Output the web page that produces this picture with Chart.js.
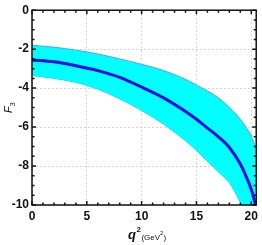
<!DOCTYPE html>
<html>
<head>
<meta charset="utf-8">
<script src="https://cdn.jsdelivr.net/npm/chart.js@4/dist/chart.umd.min.js"></script>
<style>
  html, body { margin: 0; padding: 0; background: #fff; }
  #f3Chart { display: block; }
</style>
</head>
<body>
<canvas id="f3Chart" width="262" height="245"></canvas>
<script>
// q^2 sample points (GeV^2) and F3 values
const q2Points = [0, 2, 4, 6, 8, 10, 12, 14, 15, 16, 17, 18, 19, 19.5, 20, 20.4];
const upperF3 = [-1.8, -1.9, -2.05, -2.25, -2.5, -2.78, -3.1, -3.55, -3.85, -4.15, -4.5, -5.0, -5.6, -6.0, -6.45, -7.05];
const lowerF3 = [-3.35, -3.5, -3.7, -4.05, -4.55, -5.15, -5.85, -6.7, -7.2, -7.75, -8.3, -8.85, -9.85, -10.4, -11.0, -11.5];
const centralF3 = [-2.55, -2.65, -2.85, -3.1, -3.45, -3.95, -4.5, -5.2, -5.6, -6.05, -6.5, -7.05, -7.9, -8.5, -9.2, -10.0];

const xTicks = [0, 5, 10, 15, 20];
const yTicks = [0, -2, -4, -6, -8, -10];

const X_MAX = 20.45;

function toPoints(values) {
    return q2Points.map((q, i) => ({ x: q, y: values[i] }));
}

// frame with inward ticks on all four sides (Mathematica style)
const frameTicks = {
    id: 'frameTicks',
    afterDatasetsDraw(chart) {
        const { ctx, chartArea: a, scales } = chart;
        ctx.save();
        ctx.strokeStyle = '#111';
        ctx.lineWidth = 1.5;
        ctx.strokeRect(a.left, a.top, a.right - a.left, a.bottom - a.top);
        ctx.beginPath();
        for (let v = 0; v <= X_MAX; v += 1) {
            const px = scales.x.getPixelForValue(v);
            const len = v % 5 === 0 ? 4 : 2.5;
            ctx.moveTo(px, a.bottom); ctx.lineTo(px, a.bottom - len);
            ctx.moveTo(px, a.top); ctx.lineTo(px, a.top + len);
        }
        for (let v = 0; v >= -10; v -= 0.5) {
            const py = scales.y.getPixelForValue(v);
            const len = v % 2 === 0 ? 4 : 2.5;
            ctx.moveTo(a.left, py); ctx.lineTo(a.left + len, py);
            ctx.moveTo(a.right, py); ctx.lineTo(a.right - len, py);
        }
        ctx.stroke();
        ctx.restore();
    }
};

// axis titles with super/subscripts
const axisTitles = {
    id: 'axisTitles',
    afterDraw(chart) {
        const { ctx } = chart;
        ctx.save();
        ctx.fillStyle = '#111';
        ctx.textBaseline = 'alphabetic';
        ctx.textAlign = 'left';
        // x title: q^2 (GeV^2)
        let x = 128, base = 239;
        ctx.font = "bold italic 13px 'Liberation Sans', Arial, sans-serif";
        ctx.fillText('q', x, base);
        x += ctx.measureText('q').width + 0.5;
        ctx.font = "bold 8px 'Liberation Sans', Arial, sans-serif";
        ctx.fillText('2', x, base - 7);
        x += ctx.measureText('2').width + 0.5;
        ctx.font = "8px 'Liberation Sans Narrow', 'Liberation Sans', Arial, sans-serif";
        ctx.fillText('(GeV', x, base + 1);
        x += ctx.measureText('(GeV').width;
        ctx.font = "6px 'Liberation Sans', Arial, sans-serif";
        ctx.fillText('2', x, base - 4);
        x += ctx.measureText('2').width;
        ctx.font = "8px 'Liberation Sans Narrow', 'Liberation Sans', Arial, sans-serif";
        ctx.fillText(')', x, base + 1);
        // y title: F_3
        ctx.translate(12, 113);
        ctx.rotate(-Math.PI / 2);
        ctx.font = "italic 11px 'Liberation Sans', Arial, sans-serif";
        ctx.fillText('F', 0, 0);
        const w = ctx.measureText('F').width;
        ctx.font = "7px 'Liberation Sans', Arial, sans-serif";
        ctx.fillText('3', w, 2.5);
        ctx.restore();
    }
};

new Chart(document.getElementById('f3Chart'), {
    type: 'line',
    data: {
        datasets: [
            {
                label: 'upper',
                data: toPoints(upperF3),
                borderColor: '#3aa8ff',
                borderWidth: 1,
                backgroundColor: '#00ffff',
                fill: '+1',
                pointRadius: 0,
                order: 2,
                cubicInterpolationMode: 'monotone'
            },
            {
                label: 'lower',
                data: toPoints(lowerF3),
                borderColor: '#3aa8ff',
                borderWidth: 1,
                fill: false,
                pointRadius: 0,
                order: 2,
                cubicInterpolationMode: 'monotone'
            },
            {
                label: 'central',
                data: toPoints(centralF3),
                borderColor: '#0a0ae6',
                borderWidth: 3,
                fill: false,
                pointRadius: 0,
                order: 0,
                cubicInterpolationMode: 'monotone'
            }
        ]
    },
    options: {
        responsive: false,
        animation: false,
        devicePixelRatio: 1,
        layout: { padding: { top: 5, right: 2, left: 0, bottom: 0 } },
        plugins: { legend: { display: false }, tooltip: { enabled: false } },
        scales: {
            x: {
                type: 'linear',
                min: 0,
                max: X_MAX,
                afterBuildTicks: (scale) => { scale.ticks = xTicks.map(v => ({ value: v })); },
                afterFit: (scale) => { scale.height = 40; },
                ticks: {
                    padding: 4,
                    color: '#111',
                    font: { family: "'Liberation Sans Narrow', 'Liberation Sans', Arial", size: 12, weight: 'bold' },
                    maxRotation: 0
                },
                grid: { color: '#d4d4d4', lineWidth: 1, drawTicks: false },
                border: { display: false, dash: [2, 2] }
            },
            y: {
                type: 'linear',
                min: -10,
                max: 0,
                afterBuildTicks: (scale) => { scale.ticks = yTicks.map(v => ({ value: v })); },
                afterFit: (scale) => { scale.width = 32; },
                ticks: {
                    padding: 3,
                    color: '#111',
                    font: { family: "'Liberation Sans Narrow', 'Liberation Sans', Arial", size: 12, weight: 'bold' }
                },
                grid: { color: '#d4d4d4', lineWidth: 1, drawTicks: false },
                border: { display: false, dash: [2, 2] }
            }
        }
    },
    plugins: [frameTicks, axisTitles]
});
</script>
</body>
</html>
